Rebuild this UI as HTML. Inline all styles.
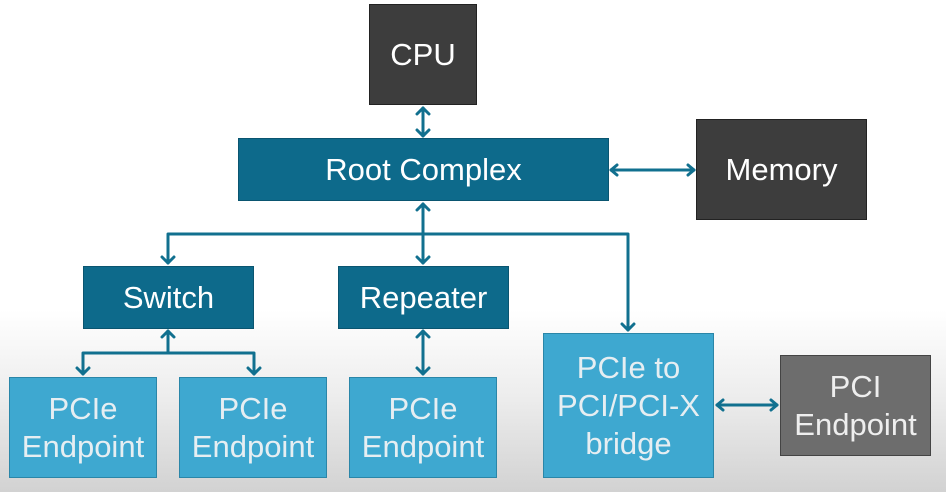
<!DOCTYPE html>
<html><head><style>
body{margin:0;width:946px;height:492px;overflow:hidden;background:linear-gradient(to bottom,#fff 0,#fff 310px,#ececec 400px,#d2d2d2 492px);font-family:"Liberation Sans",sans-serif;position:relative}
.b{position:absolute;box-sizing:border-box;display:flex;align-items:center;justify-content:center;text-align:center;color:#fff;font-size:31px;line-height:38px}
.d{background:#3d3d3d;border:1px solid #222}
.t{background:#0d6a8b;border:1px solid #0a5570}
.l{background:#3ea8d0;border:1px solid #2a86a8;color:#e6eef2}
.g{background:#6d6d6d;border:1px solid #444;color:#eee}
</style></head><body>
<svg width="946" height="492" style="position:absolute;left:0;top:0">
<g stroke="#11708f" stroke-width="3" fill="none" stroke-linecap="round" stroke-linejoin="round">
<line x1="423" y1="108" x2="423" y2="136"/><path d="M417 114 L423 108 L429 114 M417 130 L423 136 L429 130"/>
<line x1="611" y1="170" x2="694" y2="170"/><path d="M617 165 L611 170 L617 175 M688 165 L694 170 L688 175"/>
<line x1="423" y1="204" x2="423" y2="263"/><path d="M417 210 L423 204 L429 210 M417 257 L423 263 L429 257"/>
<polyline points="168,263 168,234 628,234 628,330"/><path d="M162 257 L168 263 L174 257 M622 324 L628 330 L634 324"/>
<line x1="168" y1="331" x2="168" y2="353"/><path d="M162 337 L168 331 L174 337"/>
<polyline points="83,374 83,353 254,353 254,374"/><path d="M77 368 L83 374 L89 368 M248 368 L254 374 L260 368"/>
<line x1="423" y1="331" x2="423" y2="374"/><path d="M417 337 L423 331 L429 337 M417 368 L423 374 L429 368"/>
<line x1="717" y1="405" x2="777" y2="405"/><path d="M723 400 L717 405 L723 410 M771 400 L777 405 L771 410"/>
</g></svg>
<div class="b d" style="left:369px;top:4px;width:108px;height:101px">CPU</div>
<div class="b t" style="left:238px;top:138px;width:371px;height:63px">Root Complex</div>
<div class="b d" style="left:696px;top:119px;width:171px;height:101px">Memory</div>
<div class="b t" style="left:83px;top:266px;width:171px;height:63px">Switch</div>
<div class="b t" style="left:338px;top:266px;width:171px;height:63px">Repeater</div>
<div class="b l" style="left:9px;top:377px;width:148px;height:101px">PCIe<br>Endpoint</div>
<div class="b l" style="left:179px;top:377px;width:148px;height:101px">PCIe<br>Endpoint</div>
<div class="b l" style="left:349px;top:377px;width:148px;height:101px">PCIe<br>Endpoint</div>
<div class="b l" style="left:543px;top:333px;width:171px;height:145px">PCIe to<br>PCI/PCI-X<br>bridge</div>
<div class="b g" style="left:780px;top:355px;width:151px;height:101px">PCI<br>Endpoint</div>
</body></html>
